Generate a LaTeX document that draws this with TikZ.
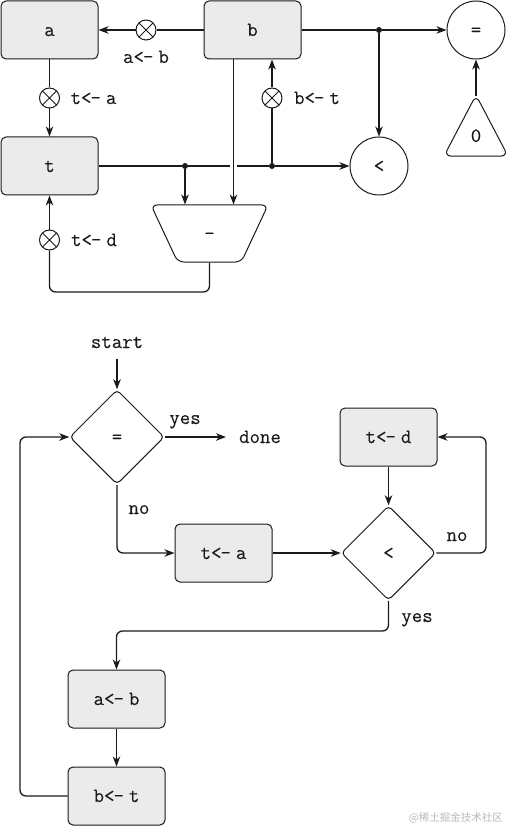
\documentclass[tikz,border=0pt]{standalone}
\usepackage{fontspec}
\usetikzlibrary{arrows.meta,shapes.geometric}
\setmonofont{Latin Modern Mono}[FakeBold=0.12]
\newfontfamily\cjkfont{Noto Sans CJK SC}
\newcommand{\asg}[2]{#1<\kern-1pt\textendash\hspace{5pt}#2}
\definecolor{boxgray}{HTML}{EBEBEB}
\definecolor{ink}{HTML}{1A1A1A}
\tikzset{
  x=1pt,y=-1pt,
  every node/.style={font=\fontsize{20.3}{23}\selectfont\ttfamily,inner sep=0pt,text height=12pt,text depth=0pt,text=ink},
  reg/.style={draw=ink,line width=1pt,fill=boxgray,rounded corners=5pt,minimum width=97pt,minimum height=58pt},
  cmp/.style={circle,draw=ink,line width=1pt,minimum size=58pt},
  tri/.style={isosceles triangle,isosceles triangle stretches,shape border rotate=90,draw=ink,line width=1pt,rounded corners=7pt,minimum width=64pt,minimum height=61pt},
  sub/.style={trapezium,trapezium stretches=true,shape border rotate=180,trapezium angle=70,draw=ink,line width=1pt,rounded corners=6pt,minimum width=117pt,minimum height=57pt},
  dia/.style={diamond,aspect=1,draw=ink,line width=1pt,rounded corners=4pt,minimum width=94.5pt,minimum height=94.5pt},
  gate/.style={circle,draw=ink,line width=1pt,minimum size=20pt,text height=0pt,path picture={
    \draw[ink,line width=1pt] (path picture bounding box.north west) -- (path picture bounding box.south east)
      (path picture bounding box.north east) -- (path picture bounding box.south west);}},
  wire/.style={draw=ink,line width=1.3pt,rounded corners=6pt},
  arr/.style={wire,-{Stealth[length=10pt,width=7.5pt,inset=3pt]}},
  dot/.style={circle,fill=ink,minimum size=6pt,text height=0pt},
}
\begin{document}
\begin{tikzpicture}
\useasboundingbox (0,0) rectangle (507,826);
% datapath
\node[reg] (a) at (49.5,30) {a};
\node[reg] (b) at (252.5,30) {b};
\node[reg] (t) at (49.5,166) {t};
\node[cmp] (eq) at (476,30) {=};
\node[cmp] (lt) at (379,166) {<};
\node[tri] (zero) at (476,134.5) {};
\node (zerolab) at (476,136) {0};
\node[sub] (minus) at (209.5,233.5) {\textendash};
\node[gate] (xab) at (146,30) {};
\node[gate] (xta) at (49.5,98) {};
\node[gate] (xbt) at (272,98) {};
\node[gate] (xtd) at (49.5,240) {};
\node (lab) at (146,57) {\asg{a}{b}};
\node (lta) at (93.5,98) {\asg{t}{a}};
\node (lbt) at (317,98) {\asg{b}{t}};
\node (ltd) at (94,240) {\asg{t}{d}};
\node[dot] (j1) at (379,30) {};
\node[dot] (j2) at (185,166) {};
\node[dot] (j3) at (272,166) {};
\coordinate (bout) at (233.5,59);
\coordinate (corner1) at (209.5,292);
\coordinate (corner2) at (49.5,292);

\draw[wire] (b) -- (xab);
\draw[arr] (xab) -- (a);
\draw[wire] (a) -- (xta);
\draw[arr] (xta) -- (t);
\draw[wire] (b) -- (j1);
\draw[arr] (j1) -- (eq);
\draw[arr] (j1) -- (lt);
\draw[arr] (zero.apex) ++(0,2) -- (eq);
\draw[wire] (t) -- (j2);
\draw[wire] (j2) -- (j3);
\draw[arr] (j3) -- (lt);
\draw[wire] (j3) -- (xbt);
\draw[arr] (xbt) -- (j3 |- b.south);
\draw[arr] (j2) -- (j2 |- minus.north);
\draw[white,line width=4.5pt] (bout |- t.east) ++(-3.5,0) -- ++(7,0);
\draw[arr] (bout) -- (bout |- minus.north);
\draw[wire] (minus.south) -- (corner1) -- (corner2) -- (xtd);
\draw[arr] (xtd) -- (t);

% flowchart
\node (start) at (117,342) {start};
\node[dia] (deq) at (117,437) {=};
\node (done) at (260,437) {done};
\node[reg] (td) at (388.5,437) {\asg{t}{d}};
\node[reg] (ta) at (223.5,553) {\asg{t}{a}};
\node[dia] (dlt) at (388.5,553) {<};
\node[reg] (ab) at (116.5,699) {\asg{a}{b}};
\node[reg] (bt) at (116.5,796) {\asg{b}{t}};
\node (yes1) at (185,418) {yes};
\node (no1) at (139,508) {no};
\node (no2) at (457,535) {no};
\node (yes2) at (417,616) {yes};
\coordinate (c1) at (20,796);
\coordinate (c2) at (20,437);
\coordinate (c3) at (117,553);
\coordinate (c4) at (486,553);
\coordinate (c5) at (486,437);
\coordinate (c6) at (388.5,631);
\coordinate (c7) at (116.5,631);

\draw[arr,shorten <=11pt] (start) -- (deq.north);
\draw[arr] (deq.east) -- (226,437);
\draw[arr] (deq.south) -- (c3) -- (ta);
\draw[arr] (ta) -- (dlt.west);
\draw[arr] (td) -- (dlt.north);
\draw[arr] (dlt.east) -- (c4) -- (c5) -- (td);
\draw[arr] (dlt.south) -- (c6) -- (c7) -- (ab);
\draw[arr] (ab) -- (bt);
\draw[arr] (bt) -- (c1) -- (c2) -- (deq.west);
\node[font=\fontsize{10.5}{12}\selectfont\cjkfont,text=gray!55,anchor=east] (mark) at (503,815) {@稀土掘金技术社区};
\end{tikzpicture}
\end{document}
